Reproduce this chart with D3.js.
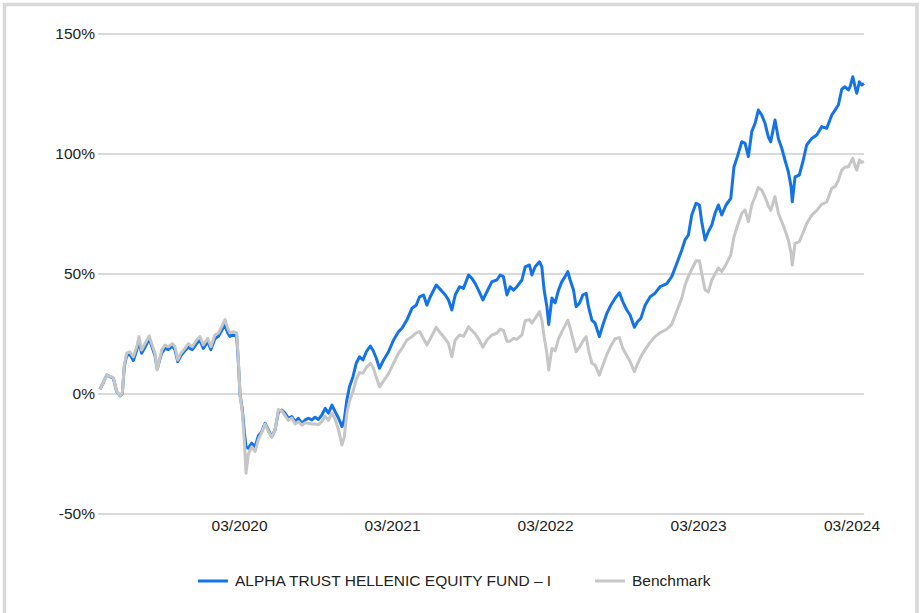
<html><head>
<meta charset="UTF-8">
<title>ALPHA TRUST HELLENIC EQUITY FUND – I vs Benchmark</title>
<style>
  body {
    margin: 0;
    padding: 0;
    background: #fff;
    font-family: Arial, "Liberation Sans", sans-serif;
    overflow: hidden;
  }
</style>
</head>
<body>
  <div id="chart"></div>

  <script src="https://d3js.org/d3.v7.min.js"></script>
  <script>
    // dates as decimal years, values in %
    const dates = [
      2019.252, 2019.272, 2019.296, 2019.317, 2019.339, 2019.361, 2019.383, 2019.398, 2019.411, 2019.426,
      2019.448, 2019.470, 2019.492, 2019.507, 2019.524, 2019.546, 2019.574, 2019.590, 2019.611, 2019.626,
      2019.655, 2019.677, 2019.698, 2019.724, 2019.742, 2019.760, 2019.781, 2019.807, 2019.829, 2019.855,
      2019.884, 2019.905, 2019.927, 2019.956, 2019.977, 2020.003, 2020.025, 2020.047, 2020.069, 2020.086,
      2020.101, 2020.123, 2020.145, 2020.155, 2020.167, 2020.182, 2020.195, 2020.206, 2020.221, 2020.243,
      2020.265, 2020.286, 2020.308, 2020.330, 2020.351, 2020.374, 2020.395, 2020.417, 2020.439, 2020.460,
      2020.482, 2020.504, 2020.526, 2020.547, 2020.570, 2020.591, 2020.613, 2020.635, 2020.656, 2020.678,
      2020.700, 2020.722, 2020.743, 2020.766, 2020.787, 2020.809, 2020.831, 2020.846, 2020.863, 2020.880,
      2020.903, 2020.924, 2020.946, 2020.968, 2020.990, 2021.016, 2021.035, 2021.055, 2021.076, 2021.103,
      2021.135, 2021.168, 2021.201, 2021.223, 2021.255, 2021.288, 2021.316, 2021.338, 2021.364, 2021.386,
      2021.408, 2021.447, 2021.473, 2021.506, 2021.527, 2021.549, 2021.571, 2021.599, 2021.625, 2021.658,
      2021.680, 2021.702, 2021.723, 2021.752, 2021.778, 2021.811, 2021.843, 2021.865, 2021.886, 2021.909,
      2021.930, 2021.952, 2021.974, 2022.007, 2022.028, 2022.056, 2022.072, 2022.093, 2022.122, 2022.137,
      2022.152, 2022.170, 2022.182, 2022.203, 2022.224, 2022.246, 2022.268, 2022.289, 2022.307, 2022.322,
      2022.344, 2022.361, 2022.383, 2022.405, 2022.427, 2022.442, 2022.464, 2022.485, 2022.513, 2022.536,
      2022.562, 2022.588, 2022.616, 2022.644, 2022.666, 2022.692, 2022.714, 2022.742, 2022.762, 2022.784,
      2022.812, 2022.845, 2022.877, 2022.910, 2022.954, 2022.986, 2023.019, 2023.052, 2023.073, 2023.095,
      2023.117, 2023.145, 2023.167, 2023.182, 2023.204, 2023.225, 2023.248, 2023.269, 2023.291, 2023.313,
      2023.341, 2023.372, 2023.393, 2023.415, 2023.444, 2023.465, 2023.487, 2023.509, 2023.531, 2023.552,
      2023.574, 2023.596, 2023.617, 2023.633, 2023.661, 2023.683, 2023.705, 2023.726, 2023.748, 2023.766,
      2023.774, 2023.792, 2023.820, 2023.846, 2023.868, 2023.901, 2023.934, 2023.966, 2023.999, 2024.032,
      2024.053, 2024.075, 2024.097, 2024.118, 2024.140, 2024.151, 2024.169, 2024.184, 2024.195, 2024.212,
      2024.227, 2024.242
    ];

    const fund = [
      2, 4.5, 7.9, 7.2, 6.6, 1, -0.8, 0.3, 11.4, 16,
      16.5, 14, 18.2, 22.4, 17, 19.5, 23, 20, 16, 10.5,
      17, 19, 18.5, 20, 18.5, 13.5, 16, 18, 19.5, 18.5,
      21, 22.5, 19, 21.8, 18.5, 23, 24, 26.5, 28.8, 25.5,
      24, 24.6, 24, 14.2, -0.4, -6.7, -16, -22, -22.6, -20.5,
      -22, -17.5, -15.7, -12.2, -15, -17.8, -15, -7.4, -6.7, -8,
      -10.1, -9.4, -11.5, -10.1, -12.2, -10.8, -10.1, -10.8, -9.7, -10.6,
      -8.75, -6, -8, -4.6, -7.4, -10.1, -13.6, -10.8, -2.5, 3,
      7.2, 12.8, 15.5, 14.2, 17.6, 20, 18, 14.9, 10.7, 14.2,
      17.6, 22.5, 26, 27.4, 30.8, 35.7, 37, 40.5, 41.25, 37,
      40.5, 45.4, 43.6, 41.25, 39.2, 35, 41.25, 44.7, 44, 49.6,
      48.2, 46, 43.3, 39.2, 42.6, 46.8, 47.5, 49.6, 48.9, 41.25,
      44.7, 43.3, 44.7, 47.5, 53, 53.75, 49.6, 53, 55.1, 53,
      43.3, 36.4, 29, 40, 38, 43.3, 46.8, 48.9, 51, 47.5,
      43.3, 36.4, 37.8, 41.25, 42, 36.4, 30.8, 29.5, 23.9, 28.75,
      33.6, 37, 39.9, 42.2, 38.5, 35, 32.9, 27.8, 30.1, 31.5,
      37, 40.5, 42, 44.7, 46, 48.9, 54.4, 60, 64.2, 66.25,
      74.6, 79.5, 78.75, 71.8, 64.2, 67.6, 70.4, 75.3, 78.75, 74.6,
      78.75, 81.5, 94.7, 98.9, 105.1, 104.5, 98.9, 109.3, 112.8, 118.3,
      116.25, 112.8, 107.2, 105.1, 114.2, 106.5, 102.4, 97.5, 92.6, 86.4,
      80.1, 90.5, 91.25, 97.5, 103.75, 106.5, 107.9, 111.4, 110.7, 116.25,
      118.3, 120.4, 127, 128, 126.7, 128, 132.2, 128, 125.3, 130.1,
      128.75, 129.4
    ];

    const benchmark = [
      2, 4.5, 7.9, 7.4, 6.8, 1.2, -0.8, 0.5, 12, 17,
      17.6, 15.5, 19.7, 23.9, 18.3, 21, 24.2, 21, 17, 10,
      18.3, 20.4, 19.7, 21, 19.7, 14.2, 17, 19, 21, 19.7,
      22.5, 23.9, 20.4, 23.2, 19.7, 24.6, 25.3, 28, 31, 27.5,
      25.5, 26, 25.5, 15, -0.4, -8, -20, -33, -25, -22,
      -24, -19, -16, -12.5, -15.5, -18, -15, -6.5, -7, -9,
      -11, -10, -12.5, -11.5, -13, -12, -12.2, -12.5, -12.5, -12.8,
      -11.5, -9.2, -11, -8, -10.5, -15, -21.25, -18, -8, -3,
      1, 6, 9, 8.6, 11, 12.8, 11, 7, 3, 5.5,
      8.5, 12.8, 17, 19, 22.5, 23.9, 25.5, 26, 23, 20.4,
      23, 27.8, 25.5, 23, 21, 15.5, 22.5, 24.6, 24, 28,
      26.5, 25, 23, 19.5, 22.5, 24.6, 25.3, 27, 26.5, 22,
      22, 23.2, 22.8, 24.6, 30.5, 31, 29.5, 31.5, 34.3, 30.8,
      23.9, 17, 10, 19, 18, 23, 26, 28.5, 30.8, 27.5,
      22, 17.6, 19.5, 22, 23.9, 18.3, 12.8, 12.1, 7.9, 12,
      16.5, 20, 23, 23.5, 19, 16, 13.5, 9.3, 12.5, 15.5,
      18.5, 21.5, 23.9, 25.5, 27, 29, 34.5, 40, 45.4, 49,
      52, 55.5, 55.5, 50.3, 43.3, 42.5, 47.5, 50, 52.5, 51,
      54, 58, 65.5, 70, 75.3, 76.7, 71.8, 78.75, 82.2, 86,
      85, 82, 78.5, 76.5, 82.2, 75.3, 71.8, 68.3, 64.2, 58.6,
      53.75, 62.8, 63.5, 67.5, 71, 74.5, 76.5, 79, 80, 85.7,
      86.5, 89, 93.3, 94.5, 94.7, 96, 98.2, 95, 93.3, 97.5,
      96.5, 96.8
    ];

    const yTicks = [-50, 0, 50, 100, 150];
    const xTickDates = ["2020-03-01", "2021-03-01", "2022-03-01", "2023-03-01", "2024-03-01"];
    const seriesNames = ["ALPHA TRUST HELLENIC EQUITY FUND \u2013 I", "Benchmark"];
    const seriesColors = ["#1473e6", "#c6c6c6"];

    const width = 921;
    const height = 613;
    const margin = { left: 100, right: 57, top: 34, bottom: 99 };

    function yearToDate(t) {
      const y = Math.floor(t);
      const start = Date.UTC(y, 0, 1);
      const end = Date.UTC(y + 1, 0, 1);
      return new Date(start + (t - y) * (end - start));
    }

    const parsed = dates.map(yearToDate);

    const svg = d3.select("#chart")
      .append("svg")
      .attr("width", width)
      .attr("height", height);

    // outer frame
    svg.append("rect")
      .attr("x", 4.5)
      .attr("y", 4.5)
      .attr("width", 912.5)
      .attr("height", 700)
      .attr("fill", "none")
      .attr("stroke", "#d9d9d9")
      .attr("stroke-width", 3.5);

    const x = d3.scaleUtc()
      .domain([parsed[0], parsed[parsed.length - 1]])
      .range([margin.left, width - margin.right]);

    const y = d3.scaleLinear()
      .domain([-50, 150])
      .range([height - margin.bottom, margin.top]);

    // gridlines + y labels
    const yAxis = svg.append("g");
    yAxis.selectAll("line")
      .data(yTicks)
      .join("line")
      .attr("x1", margin.left - 2)
      .attr("x2", width - margin.right)
      .attr("y1", d => y(d))
      .attr("y2", d => y(d))
      .attr("stroke", "#dadada")
      .attr("stroke-width", 2);

    yAxis.selectAll("text")
      .data(yTicks)
      .join("text")
      .attr("x", 95)
      .attr("y", d => y(d))
      .attr("dy", "0.35em")
      .attr("text-anchor", "end")
      .attr("font-size", "15.5px")
      .attr("fill", "#222")
      .text(d => d + "%");

    // x labels
    const fmt = d3.utcFormat("%m/%Y");
    svg.append("g").selectAll("text")
      .data(xTickDates.map(d => new Date(d + "T00:00:00Z")))
      .join("text")
      .attr("x", d => x(d))
      .attr("y", 526)
      .attr("dy", "0.35em")
      .attr("text-anchor", "middle")
      .attr("font-size", "15.5px")
      .attr("fill", "#222")
      .text(d => fmt(d));

    const line = d3.line()
      .x((d, i) => x(parsed[i]))
      .y(d => y(d));

    svg.append("path")
      .datum(fund)
      .attr("d", line)
      .attr("fill", "none")
      .attr("stroke", seriesColors[0])
      .attr("stroke-width", 3)
      .attr("stroke-linejoin", "round");

    svg.append("path")
      .datum(benchmark)
      .attr("d", line)
      .attr("fill", "none")
      .attr("stroke", seriesColors[1])
      .attr("stroke-width", 3)
      .attr("stroke-linejoin", "round");

    // legend
    const legendItems = [
      { name: seriesNames[0], color: seriesColors[0], x: 198 },
      { name: seriesNames[1], color: seriesColors[1], x: 595 }
    ];
    const legend = svg.append("g");
    legendItems.forEach(item => {
      legend.append("line")
        .attr("x1", item.x)
        .attr("x2", item.x + 30)
        .attr("y1", 581)
        .attr("y2", 581)
        .attr("stroke", item.color)
        .attr("stroke-width", 3);
      legend.append("text")
        .attr("x", item.x + 37)
        .attr("y", 581)
        .attr("dy", "0.35em")
        .attr("font-size", "15.5px")
        .attr("fill", "#222")
        .text(item.name);
    });
  </script>
</body></html>
